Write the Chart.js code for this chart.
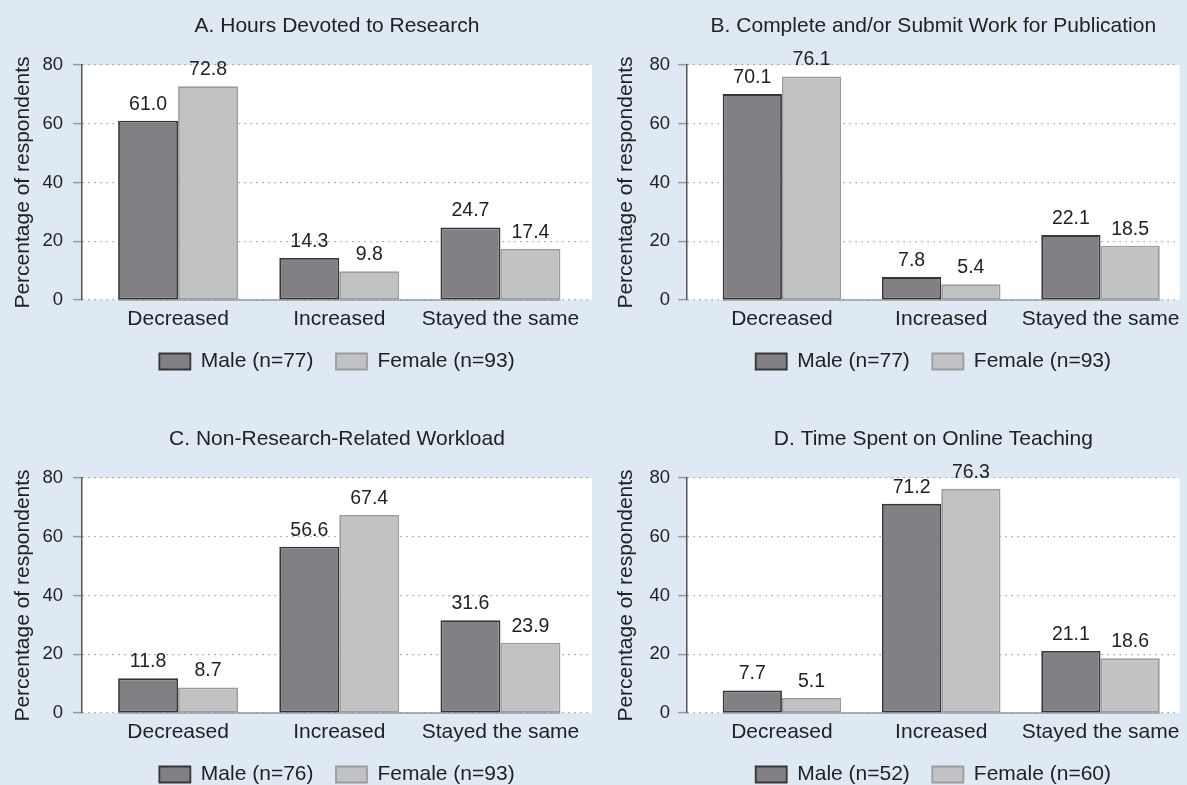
<!DOCTYPE html>
<html>
<head>
<meta charset="utf-8">
<script src="https://cdn.jsdelivr.net/npm/chart.js@4.4.1/dist/chart.umd.min.js"></script>
<style>
  html, body { margin: 0; padding: 0; background: #dee9f4; }
  body { width: 1187px; height: 785px; position: relative; overflow: hidden; }
  canvas { position: absolute; }
</style>
</head>
<body>
<canvas id="panelA" width="593" height="382" style="left:0px;top:0px"></canvas>
<canvas id="panelB" width="594" height="382" style="left:593px;top:0px"></canvas>
<canvas id="panelC" width="593" height="382" style="left:0px;top:413px"></canvas>
<canvas id="panelD" width="594" height="382" style="left:593px;top:413px"></canvas>
<script>
// Response categories shared by every panel
const categories = ['Decreased', 'Increased', 'Stayed the same'];
const yTicks = [0, 20, 40, 60, 80];

// A. Hours devoted to research
const researchMale = [61.0, 14.3, 24.7];
const researchFemale = [72.8, 9.8, 17.4];
// B. Complete and/or submit work for publication
const publicationMale = [70.1, 7.8, 22.1];
const publicationFemale = [76.1, 5.4, 18.5];
// C. Non-research-related workload
const workloadMale = [11.8, 56.6, 31.6];
const workloadFemale = [8.7, 67.4, 23.9];
// D. Time spent on online teaching
const teachingMale = [7.7, 71.2, 21.1];
const teachingFemale = [5.1, 76.3, 18.6];

// Legend labels with sample sizes
const legendA = ['Male (n=77)', 'Female (n=93)'];
const legendB = ['Male (n=77)', 'Female (n=93)'];
const legendC = ['Male (n=76)', 'Female (n=93)'];
const legendD = ['Male (n=52)', 'Female (n=60)'];

const FONT = '"Liberation Sans", Arial, Helvetica, sans-serif';
const TEXT = '#222222';
const LABEL_SIZE = 21;
Chart.defaults.font.family = FONT;
Chart.defaults.color = TEXT;

// White plotting region behind grid and bars
const plotBackground = {
  id: 'plotBackground',
  beforeDraw(chart) {
    const { ctx, chartArea: a } = chart;
    ctx.save();
    ctx.fillStyle = '#ffffff';
    ctx.fillRect(a.left, a.top, a.right - a.left, a.bottom - a.top);
    ctx.restore();
  }
};

// Solid base line running under the bar groups
const barBaseline = {
  id: 'barBaseline',
  beforeDatasetsDraw(chart) {
    const ctx = chart.ctx;
    let l = Infinity, r = -Infinity;
    chart.getSortedVisibleDatasetMetas().forEach(m => m.data.forEach(b => {
      l = Math.min(l, b.x - b.width / 2);
      r = Math.max(r, b.x + b.width / 2);
    }));
    const y = chart.scales.y.getPixelForValue(0);
    ctx.save();
    ctx.strokeStyle = '#9a9a9a';
    ctx.lineWidth = 1.5;
    ctx.beginPath();
    ctx.moveTo(l, y);
    ctx.lineTo(r, y);
    ctx.stroke();
    ctx.restore();
  }
};

// Value printed above each bar
const valueLabels = {
  id: 'valueLabels',
  afterDatasetsDraw(chart) {
    const ctx = chart.ctx;
    ctx.save();
    ctx.font = '19.5px ' + FONT;
    ctx.fillStyle = TEXT;
    ctx.textAlign = 'center';
    ctx.textBaseline = 'alphabetic';
    chart.data.datasets.forEach((ds, i) => {
      const meta = chart.getDatasetMeta(i);
      meta.data.forEach((bar, j) => {
        ctx.fillText(ds.data[j].y.toFixed(1), bar.x, bar.y - 11);
      });
    });
    ctx.restore();
  }
};

function makePanel(id, title, male, female, legend, opt) {
  const toPoints = vals => vals.map((v, i) => ({ x: i, y: v }));
  return new Chart(document.getElementById(id), {
    type: 'bar',
    data: {
      datasets: [
        {
          label: legend[0],
          data: toPoints(male),
          backgroundColor: '#818185',
          borderColor: '#363636',
          borderWidth: 1.8,
          borderSkipped: false
        },
        {
          label: legend[1],
          data: toPoints(female),
          backgroundColor: '#c1c2c4',
          borderColor: '#9c9c9c',
          borderWidth: 1.8,
          borderSkipped: false
        }
      ]
    },
    options: {
      responsive: false,
      animation: false,
      events: [],
      categoryPercentage: 0.744,
      barPercentage: 1.0,
      layout: { padding: { left: 0, right: opt.padRight, top: 0, bottom: 0 } },
      plugins: {
        tooltip: { enabled: false },
        title: {
          display: true,
          text: title,
          fullSize: false,
          color: TEXT,
          font: { size: LABEL_SIZE, weight: 'normal' },
          padding: { top: 13.4, bottom: 26.4 }
        },
        legend: {
          position: 'bottom',
          fullSize: false,
          labels: {
            boxWidth: 31,
            boxHeight: 16,
            padding: 22.5,
            color: TEXT,
            font: { size: LABEL_SIZE }
          }
        }
      },
      scales: {
        x: {
          type: 'linear',
          offset: false,
          min: -0.596,
          max: opt.xMax,
          grid: { display: false, drawTicks: false, offset: false },
          border: { display: false },
          afterBuildTicks: s => { s.ticks = categories.map((_, i) => ({ value: i })); },
          afterFit: s => { s.height = 28.5; },
          ticks: {
            autoSkip: false,
            maxRotation: 0,
            padding: 6.5,
            color: TEXT,
            font: { size: LABEL_SIZE },
            callback: v => categories[v]
          }
        },
        y: {
          min: yTicks[0],
          max: yTicks[yTicks.length - 1],
          afterBuildTicks: s => { s.ticks = yTicks.map(v => ({ value: v })); },
          afterFit: s => { s.width = opt.axisLeft; },
          grid: {
            color: '#8a8a8a',
            lineWidth: 1.2,
            drawTicks: true,
            tickLength: 9,
            tickColor: '#9a9a9a',
            tickWidth: 1.5,
            tickBorderDash: []
          },
          border: { display: true, color: '#555555', width: 1.5, dash: [1.2, 4.8] },
          ticks: {
            padding: opt.tickPad,
            color: TEXT,
            font: { size: 18.5 }
          },
          title: {
            display: true,
            text: 'Percentage of respondents',
            color: TEXT,
            font: { size: LABEL_SIZE },
            padding: { top: opt.titlePad, bottom: 0 }
          }
        }
      }
    },
    plugins: [plotBackground, barBaseline, valueLabels]
  });
}

const leftOpt = { axisLeft: 82, padRight: 1, xMax: 2.568, tickPad: 10, titlePad: 10.4 };
const rightOpt = { axisLeft: 94, padRight: 0, xMax: 2.497, tickPad: 8, titlePad: 20.4 };

makePanel('panelA', 'A. Hours Devoted to Research', researchMale, researchFemale, legendA, leftOpt);
makePanel('panelB', 'B. Complete and/or Submit Work for Publication', publicationMale, publicationFemale, legendB, rightOpt);
makePanel('panelC', 'C. Non-Research-Related Workload', workloadMale, workloadFemale, legendC, leftOpt);
makePanel('panelD', 'D. Time Spent on Online Teaching', teachingMale, teachingFemale, legendD, rightOpt);
</script>
</body>
</html>
